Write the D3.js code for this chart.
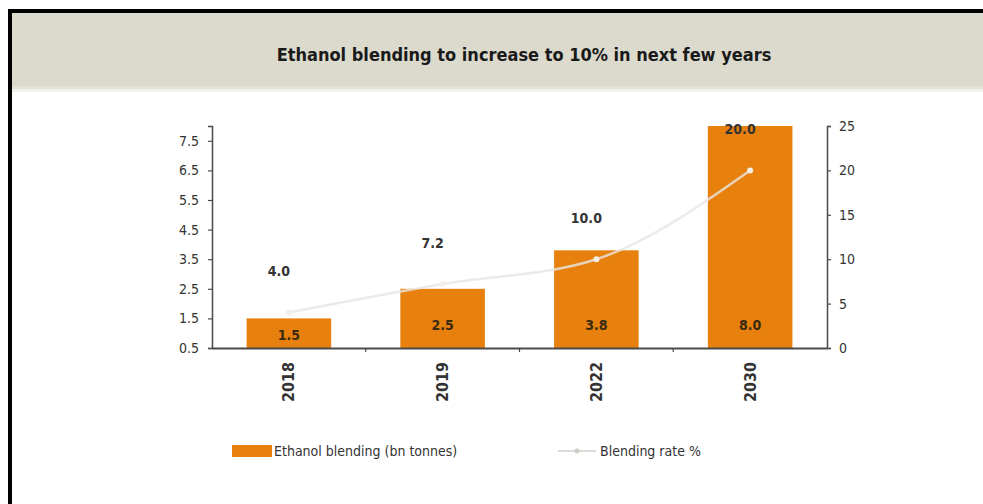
<!DOCTYPE html>
<html>
<head>
<meta charset="utf-8">
<script src="https://cdn.jsdelivr.net/npm/d3@7"></script>
<style>
  html, body { margin: 0; padding: 0; background: #ffffff; }
  svg { display: block; }
  text { font-family: "DejaVu Sans Condensed", "Liberation Sans", sans-serif; }
</style>
</head>
<body>
<svg id="chart" width="983" height="504"></svg>
<script>
// ---- data ----
const years = ["2018", "2019", "2022", "2030"];
const blendingVolume = [1.5, 2.5, 3.8, 8.0];      // bn tonnes (left axis, bars)
const blendingRate = [4.0, 7.2, 10.0, 20.0];      // % (right axis, line)
const leftTicks = [0.5, 1.5, 2.5, 3.5, 4.5, 5.5, 6.5, 7.5];
const rightTicks = [0, 5, 10, 15, 20, 25];
const titleText = "Ethanol blending to increase to 10% in next few years";
const legendBar = "Ethanol blending (bn tonnes)";
const legendLine = "Blending rate %";

// ---- layout ----
const W = 983, H = 504;
const plotL = 212, plotR = 827, plotT = 126, plotB = 348;
const orange = "#e8800e";
const axisColor = "#4a4a4a";

const svg = d3.select("#chart");

// frame and title band
svg.append("rect").attr("x", 0).attr("y", 0).attr("width", W).attr("height", H).attr("fill", "#ffffff");
svg.append("rect").attr("x", 12).attr("y", 13).attr("width", W - 12).attr("height", 76).attr("fill", "#dcdacd");
svg.append("rect").attr("x", 12).attr("y", 86).attr("width", W - 12).attr("height", 6).attr("fill", "#e9e7dd").attr("opacity", 0.6);
svg.append("line").attr("x1", 8).attr("x2", W).attr("y1", 11).attr("y2", 11).attr("stroke", "#000").attr("stroke-width", 4);
svg.append("line").attr("x1", 10).attr("x2", 10).attr("y1", 9).attr("y2", H).attr("stroke", "#000").attr("stroke-width", 4);

svg.append("text")
  .attr("x", 524).attr("y", 61)
  .attr("text-anchor", "middle")
  .attr("font-size", 18).attr("font-weight", "bold").attr("fill", "#1a1a1a")
  .text(titleText);

// ---- scales ----
const x = d3.scaleBand().domain(years).range([plotL, plotR]).paddingInner(0.45).paddingOuter(0.225);
const yL = d3.scaleLinear().domain([0.5, 8.0]).range([plotB, plotT]);
const yR = d3.scaleLinear().domain([0, 25]).range([plotB, plotT]);

// ---- bars ----
svg.append("g").selectAll("rect").data(years).join("rect")
  .attr("x", d => x(d))
  .attr("width", x.bandwidth())
  .attr("y", (d, i) => yL(blendingVolume[i]))
  .attr("height", (d, i) => yL(0.5) - yL(blendingVolume[i]))
  .attr("fill", orange);

// bar value labels
svg.append("g").selectAll("text").data(years).join("text")
  .attr("x", d => x(d) + x.bandwidth() / 2)
  .attr("y", (d, i) => Math.max(yL(0.5) - 18, yL(blendingVolume[i]) + 22))
  .attr("text-anchor", "middle")
  .attr("font-size", 14).attr("font-weight", "bold").attr("fill", "#3a2a10")
  .text((d, i) => d3.format(".1f")(blendingVolume[i]));

// ---- axes ----
const axL = svg.append("g").attr("transform", `translate(${plotL},0)`)
  .call(d3.axisLeft(yL).tickValues(leftTicks).tickFormat(d3.format(".1f")).tickSize(4).tickPadding(9));
const axR = svg.append("g").attr("transform", `translate(${plotR},0)`)
  .call(d3.axisRight(yR).tickValues(rightTicks).tickFormat(d3.format("d")).tickSize(4).tickPadding(8));
[axL, axR].forEach(a => {
  a.select(".domain").attr("stroke", axisColor).attr("stroke-width", 1.5);
  a.selectAll(".tick line").attr("stroke", axisColor).attr("stroke-width", 1.2);
  a.selectAll(".tick text").attr("font-size", 14).attr("fill", "#333")
    .style("font-family", "'DejaVu Sans Condensed', sans-serif");
});

// x axis: baseline, boundary ticks, rotated labels
const xAx = svg.append("g").attr("transform", `translate(0,${plotB})`)
  .call(d3.axisBottom(x).tickSize(0).tickPadding(14));
xAx.select(".domain").attr("stroke", axisColor).attr("stroke-width", 2);
xAx.selectAll(".tick text")
  .attr("transform", "rotate(-90)")
  .attr("text-anchor", "end")
  .attr("x", -14).attr("y", 0).attr("dy", "0.35em")
  .attr("font-size", 16).attr("font-weight", "bold").attr("fill", "#333");
const boundaries = years.slice(1).map(d => x(d) - x.step() * x.paddingInner() / 2);
xAx.append("g").selectAll("line").data(boundaries).join("line")
  .attr("x1", d => d).attr("x2", d => d).attr("y1", 0).attr("y2", 4)
  .attr("stroke", axisColor).attr("stroke-width", 1.2);

// ---- line ----
const pts = years.map((d, i) => [x(d) + x.bandwidth() / 2, yR(blendingRate[i])]);
svg.append("path")
  .attr("d", d3.line().curve(d3.curveMonotoneX)(pts))
  .attr("fill", "none").attr("stroke", "#e8e6e2").attr("stroke-width", 2.5).attr("opacity", 0.8);
svg.append("g").selectAll("circle").data(pts).join("circle")
  .attr("cx", d => d[0]).attr("cy", d => d[1]).attr("r", 3)
  .attr("fill", "#f3efe8");

// line value labels
svg.append("g").selectAll("text").data(years).join("text")
  .attr("x", d => x(d) + x.bandwidth() / 2 - 10)
  .attr("y", (d, i) => yR(blendingRate[i]) - 36)
  .attr("text-anchor", "middle")
  .attr("font-size", 14).attr("font-weight", "bold").attr("fill", "#333")
  .text((d, i) => d3.format(".1f")(blendingRate[i]));

// ---- legend ----
const lg = svg.append("g").attr("transform", "translate(0,451)");
lg.append("rect").attr("x", 232).attr("y", -6).attr("width", 40).attr("height", 12).attr("fill", orange);
lg.append("text").attr("x", 274).attr("y", 0).attr("dy", "0.35em")
  .attr("font-size", 14).attr("fill", "#333").text(legendBar);
lg.append("line").attr("x1", 558).attr("x2", 596).attr("y1", 0).attr("y2", 0)
  .attr("stroke", "#dddbd6").attr("stroke-width", 2);
lg.append("circle").attr("cx", 577).attr("cy", 0).attr("r", 2.5).attr("fill", "#cfcdc8");
lg.append("text").attr("x", 600).attr("y", 0).attr("dy", "0.35em")
  .attr("font-size", 14).attr("fill", "#333").text(legendLine);
</script>
</body>
</html>
